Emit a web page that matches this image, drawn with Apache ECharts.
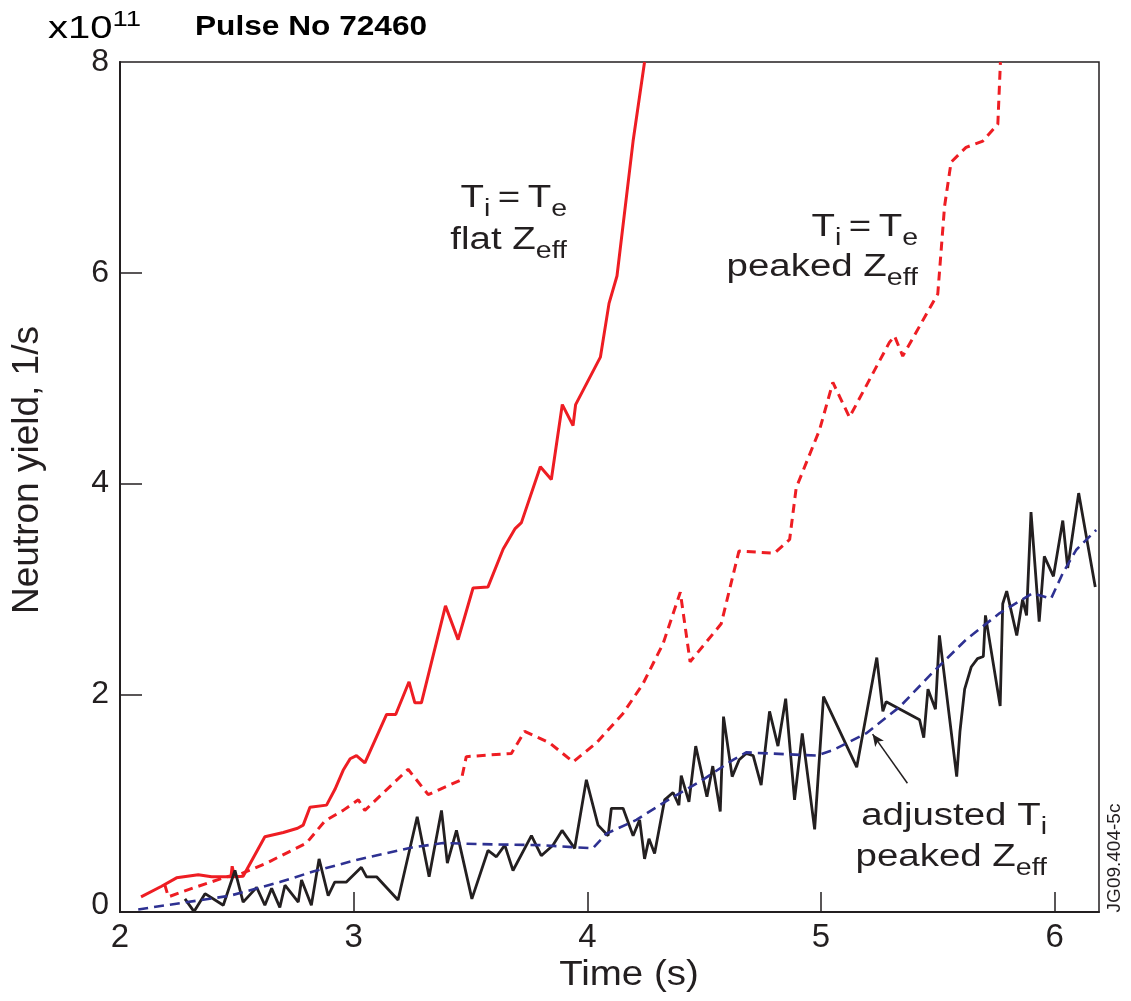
<!DOCTYPE html>
<html>
<head>
<meta charset="utf-8">
<script src="https://cdn.jsdelivr.net/npm/echarts@6/dist/echarts.min.js"></script>
<style>
html,body{margin:0;padding:0;background:#fff;}
#chart{width:1131px;height:1001px;}
</style>
</head>
<body>
<div id="chart"></div>
<script>
// ---- data (time s, neutron yield x1e11 1/s) ----
const xTickLabels = [2, 3, 4, 5, 6];
const yTickLabels = [0, 2, 4, 6, 8];

const flatZeff = [[2.09,0.08],[2.178,0.18],[2.242,0.26],[2.335,0.29],[2.392,0.27],[2.475,0.27],[2.48,0.37],[2.49,0.27],[2.527,0.275],[2.62,0.65],[2.699,0.69],[2.76,0.73],[2.784,0.76],[2.813,0.93],[2.884,0.95],[2.92,1.1],[2.955,1.28],[2.985,1.39],[3.012,1.42],[3.048,1.35],[3.141,1.81],[3.18,1.81],[3.237,2.12],[3.262,1.92],[3.29,1.92],[3.393,2.84],[3.447,2.52],[3.511,3.01],[3.575,3.02],[3.64,3.38],[3.69,3.57],[3.718,3.63],[3.799,4.16],[3.846,4.04],[3.893,4.75],[3.939,4.55],[3.95,4.75],[4.056,5.2],[4.093,5.71],[4.127,5.97],[4.196,7.25],[4.245,8.0]];

const peakedZeff = [[2.191,0.2],[2.207,0.08],[2.321,0.17],[2.456,0.27],[2.52,0.3],[2.627,0.4],[2.798,0.59],[2.877,0.8],[2.955,0.9],[3.02,1.0],[3.048,0.9],[3.233,1.29],[3.319,1.05],[3.461,1.19],[3.482,1.41],[3.675,1.44],[3.732,1.65],[3.839,1.54],[3.939,1.36],[4.039,1.54],[4.153,1.82],[4.238,2.1],[4.324,2.48],[4.398,2.97],[4.44,2.31],[4.573,2.67],[4.649,3.36],[4.801,3.34],[4.866,3.47],[4.894,3.96],[4.994,4.51],[5.051,4.96],[5.122,4.63],[5.293,5.34],[5.315,5.4],[5.35,5.21],[5.5,5.8],[5.529,6.63],[5.557,7.05],[5.621,7.19],[5.693,7.25],[5.757,7.41],[5.767,7.94],[5.768,8.0]];

const adjustedTi = [[2.078,-0.04],[2.257,0.02],[2.47,0.09],[2.684,0.22],[2.827,0.32],[3.012,0.43],[3.254,0.55],[3.383,0.59],[3.54,0.58],[3.8,0.57],[4.024,0.54],[4.082,0.68],[4.21,0.81],[4.324,0.97],[4.48,1.17],[4.624,1.38],[4.68,1.45],[4.98,1.42],[5.05,1.47],[5.193,1.63],[5.336,1.88],[5.479,2.21],[5.621,2.52],[5.764,2.77],[5.906,2.96],[5.985,2.91],[6.035,3.15],[6.092,3.37],[6.178,3.56]];

const measured = [[2.278,0.06],[2.317,-0.06],[2.364,0.11],[2.442,0.0],[2.492,0.33],[2.527,0.03],[2.585,0.17],[2.62,0.0],[2.649,0.16],[2.684,-0.02],[2.706,0.19],[2.763,0.03],[2.777,0.24],[2.819,0.0],[2.852,0.44],[2.891,0.09],[2.919,0.22],[2.969,0.22],[3.033,0.36],[3.055,0.27],[3.098,0.27],[3.19,0.05],[3.272,0.84],[3.323,0.27],[3.376,0.9],[3.401,0.4],[3.44,0.71],[3.506,0.06],[3.575,0.52],[3.611,0.46],[3.647,0.57],[3.682,0.33],[3.761,0.66],[3.803,0.47],[3.853,0.57],[3.892,0.71],[3.946,0.54],[3.996,1.19],[4.046,0.76],[4.089,0.66],[4.103,0.92],[4.153,0.92],[4.196,0.66],[4.224,0.81],[4.245,0.44],[4.264,0.63],[4.288,0.49],[4.331,1.0],[4.367,1.07],[4.392,0.95],[4.402,1.23],[4.435,0.98],[4.464,1.51],[4.512,1.03],[4.537,1.32],[4.569,0.89],[4.583,1.79],[4.62,1.22],[4.65,1.38],[4.68,1.44],[4.71,1.42],[4.744,1.14],[4.78,1.84],[4.816,1.51],[4.849,1.96],[4.887,1.0],[4.92,1.63],[4.973,0.72],[5.011,1.98],[5.153,1.31],[5.239,2.35],[5.265,1.84],[5.279,1.93],[5.422,1.76],[5.44,1.59],[5.458,2.05],[5.49,1.86],[5.507,2.56],[5.581,1.22],[5.595,1.65],[5.615,2.05],[5.643,2.26],[5.67,2.34],[5.695,2.36],[5.704,2.75],[5.767,1.89],[5.778,2.86],[5.795,2.98],[5.838,2.56],[5.863,2.9],[5.88,2.75],[5.899,3.73],[5.934,2.69],[5.956,3.31],[5.995,3.12],[6.035,3.65],[6.056,3.2],[6.103,3.91],[6.174,3.02]];

const arrowFrom = [5.37, 1.158];
const arrowTo = [5.221, 1.623];

// ---- styling ----
const INK = '#231f20';
const RED = '#ee1d23';
const NAVY = '#2e3192';
const FONT = '"Liberation Sans", Arial, Helvetica, sans-serif';

const rich = {
  n: {fontSize: 31, fontFamily: FONT, color: INK, verticalAlign: 'bottom', padding: [0, 0, 8, 0]},
  q: {fontSize: 31, fontFamily: FONT, color: INK, verticalAlign: 'bottom', padding: [0, 6, 8, 6]},
  s: {fontSize: 23, fontFamily: FONT, color: INK, verticalAlign: 'bottom'}
};
function ann(text, x, y) {
  return {
    type: 'text', x: x, y: y, scaleX: 1.24, z: 10,
    style: {text: text, rich: rich, align: 'right', verticalAlign: 'middle', fill: INK}
  };
}

const chart = echarts.init(document.getElementById('chart'), null, {renderer: 'canvas'});
chart.setOption({
  backgroundColor: '#ffffff',
  animation: false,
  grid: {left: 120, right: 32, top: 62, bottom: 89, show: true, borderColor: INK, borderWidth: 1.5, backgroundColor: 'transparent'},
  xAxis: {
    type: 'value', min: 2, max: 6.19, interval: 1,
    axisLine: {show: true, onZero: false, lineStyle: {color: INK, width: 2}},
    axisTick: {show: true, inside: true, length: 20, lineStyle: {color: INK, width: 1.5}, customValues: [3, 4, 5, 6]},
    axisLabel: {customValues: xTickLabels, fontSize: 33, fontFamily: FONT, color: INK, margin: 9},
    splitLine: {show: false}
  },
  yAxis: {
    type: 'value', min: -0.064, max: 8,
    axisLine: {show: true, onZero: false, lineStyle: {color: INK, width: 2}},
    axisTick: {show: true, inside: true, length: 22, lineStyle: {color: INK, width: 1.5}, customValues: [2, 4, 6]},
    axisLabel: {customValues: yTickLabels, fontSize: 32, fontFamily: FONT, color: INK, margin: 11},
    splitLine: {show: false}
  },
  series: [
    {name: 'Ti=Te flat Zeff', type: 'line', data: flatZeff, showSymbol: false, z: 3,
     lineStyle: {color: RED, width: 3}},
    {name: 'Ti=Te peaked Zeff', type: 'line', data: peakedZeff, showSymbol: false, z: 3,
     lineStyle: {color: RED, width: 3, type: [9, 6]}},
    {name: 'measured', type: 'line', data: measured, showSymbol: false, z: 4,
     lineStyle: {color: INK, width: 2.8}},
    {name: 'adjusted Ti peaked Zeff', type: 'line', data: adjustedTi, showSymbol: false, z: 5,
     lineStyle: {color: NAVY, width: 2.6, type: [10, 6]},
     markLine: {silent: true, animation: false, symbol: ['none', 'arrow'], symbolSize: [8, 12],
       label: {show: false},
       lineStyle: {color: INK, width: 1.5, type: 'solid'},
       data: [[{coord: arrowFrom}, {coord: arrowTo}]]}}
  ],
  graphic: [
    {type: 'text', x: 48, y: 27, scaleX: 1.25,
     style: {text: '{a|x10}{b|11}', verticalAlign: 'middle',
       rich: {a: {fontSize: 32, fontFamily: FONT, color: INK, lineHeight: 36, verticalAlign: 'bottom'},
              b: {fontSize: 22, fontFamily: FONT, color: INK, lineHeight: 16, verticalAlign: 'top'}}}},
    {type: 'text', x: 195, y: 27, scaleX: 1.13,
     style: {text: 'Pulse No 72460', fontSize: 28, fontWeight: 'bold', fontFamily: FONT, fill: '#000', verticalAlign: 'middle'}},
    {type: 'text', x: 629, y: 975, scaleX: 1.1,
     style: {text: 'Time (s)', fontSize: 35, fontFamily: FONT, fill: INK, align: 'center', verticalAlign: 'middle'}},
    {type: 'text', x: 28, y: 470, rotation: Math.PI / 2,
     style: {text: 'Neutron yield, 1/s', fontSize: 37, fontFamily: FONT, fill: INK, align: 'center', verticalAlign: 'middle'}},
    {type: 'text', x: 1115, y: 858, rotation: Math.PI / 2,
     style: {text: 'JG09.404-5c', fontSize: 19, fontFamily: FONT, fill: INK, align: 'center', verticalAlign: 'middle'}},
    ann('{n|T}{s|i}{q|=}{n|T}{s|e}', 567, 202),
    ann('{n|flat Z}{s|eff}', 567, 244),
    ann('{n|T}{s|i}{q|=}{n|T}{s|e}', 918, 231),
    ann('{n|peaked Z}{s|eff}', 918, 271),
    ann('{n|adjusted T}{s|i}', 1047, 820),
    ann('{n|peaked Z}{s|eff}', 1047, 861)
  ]
});
</script>
</body>
</html>
